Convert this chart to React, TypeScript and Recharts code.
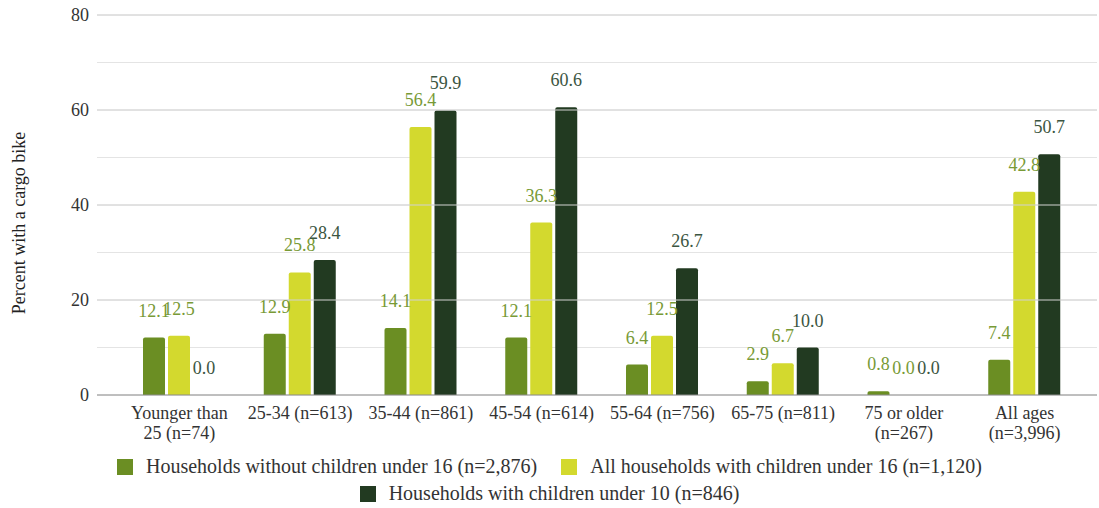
import React from 'react';
import {
  BarChart,
  Bar,
  XAxis,
  YAxis,
  CartesianGrid,
  ReferenceLine,
  LabelList,
} from 'recharts';

// Age groups (line breaks mark two-line axis labels)
const categories = [
  'Younger than\n25 (n=74)',
  '25-34 (n=613)',
  '35-44 (n=861)',
  '45-54 (n=614)',
  '55-64 (n=756)',
  '65-75 (n=811)',
  '75 or older\n(n=267)',
  'All ages\n(n=3,996)',
];

// Percent of households with a cargo bike
const withoutChildren16 = [12.1, 12.9, 14.1, 12.1, 6.4, 2.9, 0.8, 7.4];
const withChildren16 = [12.5, 25.8, 56.4, 36.3, 12.5, 6.7, 0.0, 42.8];
const withChildren10 = [0.0, 28.4, 59.9, 60.6, 26.7, 10.0, 0.0, 50.7];

const seriesNames = [
  'Households without children under 16 (n=2,876)',
  'All households with children under 16 (n=1,120)',
  'Households with children under 10 (n=846)',
];

const yTicks = [0, 10, 20, 30, 40, 50, 60, 70, 80];
const yMajorTicks = [20, 40, 60, 80];

const FONT = 'Liberation Serif';
const COLORS = ['#6b8e23', '#d3d92e', '#223a21'];
const LABEL_COLORS = ['#789a36', '#789a36', '#3b5541'];

const data = categories.map((name, i) => ({
  name,
  a: withoutChildren16[i],
  b: withChildren16[i],
  c: withChildren10[i],
}));

const makeValueLabel = (color: string) => (props: any) => {
  const { x, y, width, value } = props;
  return (
    <text
      x={Number(x) + Number(width) / 2}
      y={Number(y) - 21}
      textAnchor="middle"
      fill={color}
      style={{ fontFamily: FONT, fontSize: 18 }}
    >
      {Number(value ?? 0).toFixed(1)}
    </text>
  );
};

const CategoryTick = (props: any) => {
  const { x, y, payload } = props;
  const lines = String(payload.value).split('\n');
  return (
    <text x={x} y={y + 3} textAnchor="middle" fill="#333" style={{ fontFamily: FONT, fontSize: 18 }}>
      {lines.map((line, i) => (
        <tspan key={i} x={x} dy={i === 0 ? '0.71em' : 20}>
          {line}
        </tspan>
      ))}
    </text>
  );
};

const LegendRow = ({ items }: { items: number[] }) => (
  <div style={{ display: 'flex', justifyContent: 'center', alignItems: 'center', height: 27 }}>
    {items.map((i) => (
      <div key={i} style={{ display: 'flex', alignItems: 'center', margin: '0 12px' }}>
        <div style={{ width: 16, height: 16, background: COLORS[i], marginRight: 13 }} />
        <span style={{ fontFamily: FONT, fontSize: 20, color: '#333', whiteSpace: 'nowrap' }}>
          {seriesNames[i]}
        </span>
      </div>
    ))}
  </div>
);

export default function App() {
  const keys = ['a', 'b', 'c'];
  return (
    <div style={{ position: 'absolute', left: 0, top: 0, width: 1099, height: 508, background: '#fff' }}>
      <BarChart
        width={1099}
        height={508}
        data={data}
        margin={{ top: 15, right: 2, bottom: 63, left: 37 }}
        barSize={22}
        barGap={3}
      >
        <CartesianGrid horizontal vertical={false} stroke="#e4e4e4" />
        {yMajorTicks.map((v) => (
          <ReferenceLine key={v} y={v} stroke="#d2d2d2" strokeWidth={1.2} />
        ))}
        <XAxis
          dataKey="name"
          interval={0}
          height={50}
          tickLine={false}
          axisLine={{ stroke: '#8c8c8c', strokeWidth: 1.2 }}
          tick={<CategoryTick />}
          padding={{ left: 22, right: 12 }}
        />
        <YAxis
          width={60}
          domain={[0, 80]}
          ticks={yTicks}
          interval={0}
          tickLine={false}
          axisLine={false}
          tickFormatter={(v: number) => (v % 20 === 0 ? String(v) : '')}
          tick={{ fill: '#333', fontSize: 18, fontFamily: FONT }}
        />
        {keys.map((k, i) => (
          <Bar
            key={k}
            dataKey={k}
            fill={COLORS[i]}
            radius={[2, 2, 0, 0]}
            minPointSize={0.01}
            isAnimationActive={false}
          >
            <LabelList dataKey={k} content={makeValueLabel(LABEL_COLORS[i])} />
          </Bar>
        ))}
      </BarChart>
      <svg width={40} height={508} style={{ position: 'absolute', left: 0, top: 0 }}>
        <text
          x={19}
          y={223}
          transform="rotate(-90 19 223)"
          textAnchor="middle"
          dominantBaseline="central"
          fill="#222"
          style={{ fontFamily: FONT, fontSize: 18 }}
        >
          Percent with a cargo bike
        </text>
      </svg>
      <div style={{ position: 'absolute', left: 0, top: 453, width: 1099 }}>
        <LegendRow items={[0, 1]} />
        <LegendRow items={[2]} />
      </div>
    </div>
  );
}
